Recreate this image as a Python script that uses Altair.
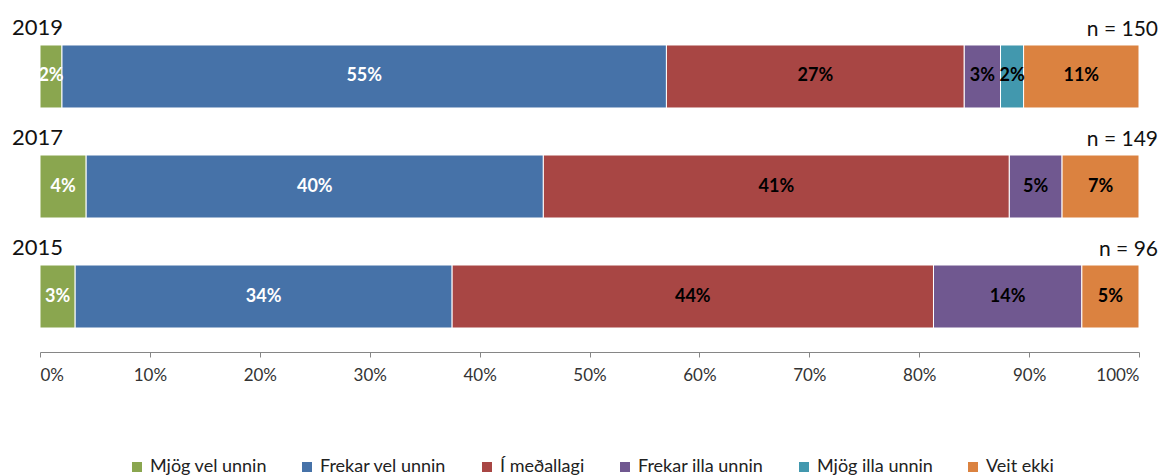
import altair as alt
import pandas as pd

years = ["2019", "2017", "2015"]
n_labels = ["n = 150", "n = 149", "n = 96"]
categories = ["Mjög vel unnin", "Frekar vel unnin", "Í meðallagi",
              "Frekar illa unnin", "Mjög illa unnin", "Veit ekki"]
colors = ["#8AA64F", "#4672A8", "#A84644", "#705890", "#4298AE", "#DB8240"]

values_2019 = [2.0, 55.0, 27.1, 3.3, 2.1, 10.5]
values_2017 = [4.2, 41.6, 42.4, 4.8, 0.0, 7.0]
values_2015 = [3.2, 34.3, 43.8, 13.5, 0.0, 5.2]
labels_2019 = ["2%", "55%", "27%", "3%", "2%", "11%"]
labels_2017 = ["4%", "40%", "41%", "5%", "", "7%"]
labels_2015 = ["3%", "34%", "44%", "14%", "", "5%"]

rows = []
for yr, vals, labs in zip(years, [values_2019, values_2017, values_2015],
                          [labels_2019, labels_2017, labels_2015]):
    for i, (c, v, l) in enumerate(zip(categories, vals, labs)):
        if v > 0:
            rows.append({"year": yr, "category": c, "value": v, "label": l, "order": i})
df = pd.DataFrame(rows)
ydf = pd.DataFrame({"year": years, "n": n_labels})

FONT = "Lato"

yscale = alt.Scale(paddingInner=0.4273, paddingOuter=0.259, align=0.579)
yenc = alt.Y("year:N", sort=years, axis=None, scale=yscale)

xscale = alt.Scale(domain=[0, 100], nice=False)

bars = alt.Chart(df).mark_bar(stroke="white", strokeWidth=1).encode(
    x=alt.X("value:Q", stack="zero", scale=xscale, title=None,
            axis=alt.Axis(values=list(range(0, 101, 10)), labelExpr="datum.value + '%'",
                          grid=False, domainColor="#868686", tickColor="#868686",
                          tickSize=5, labelFontSize=17, labelFont=FONT,
                          labelColor="#333333", labelPadding=10)),
    y=yenc,
    color=alt.Color("category:N", scale=alt.Scale(domain=categories, range=colors),
                    legend=alt.Legend(title=None, orient="none", direction="horizontal",
                                      legendX=88, legendY=446, symbolType="square",
                                      symbolSize=100, symbolStrokeWidth=0,
                                      labelFontSize=18, labelFont=FONT,
                                      labelColor="#222222", columnPadding=31)),
    order=alt.Order("order:Q"),
)

labels = alt.Chart(df).transform_stack(
    stack="value", groupby=["year"], as_=["x0", "x1"], sort=[alt.SortField("order")]
).transform_calculate(mid="(datum.x0 + datum.x1) / 2").mark_text(
    fontWeight="bold", fontSize=18, font=FONT
).encode(
    x=alt.X("mid:Q", scale=xscale),
    y=yenc,
    text="label:N",
    color=alt.condition("datum.order < 2", alt.value("white"), alt.value("black")),
)

yenc_top = alt.Y("year:N", sort=years, axis=None, bandPosition=0, scale=yscale)

year_text = alt.Chart(ydf).mark_text(
    align="left", baseline="alphabetic", fontSize=22, font=FONT, dx=-28, dy=-10,
    color="#111111"
).encode(x=alt.datum(0), y=yenc_top, text="year:N")

n_text = alt.Chart(ydf).mark_text(
    align="right", baseline="alphabetic", fontSize=21, font=FONT, dx=19, dy=-9,
    color="#111111"
).encode(x=alt.datum(100), y=yenc_top, text="n:N")

chart = alt.layer(bars, labels, year_text, n_text).properties(
    width=1099, height=340,
    autosize=alt.AutoSizeParams(type="none"),
    padding={"left": 32, "top": 4, "right": 23, "bottom": 123},
).configure_view(stroke=None)

chart.save("out.html", embed_options={"renderer": "svg", "actions": False})
